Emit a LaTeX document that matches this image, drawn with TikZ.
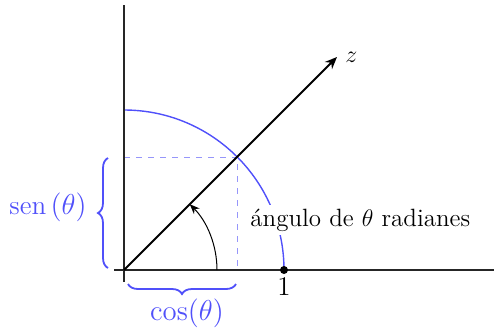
\documentclass[tikz,border=0pt]{standalone}
\usetikzlibrary{decorations.pathreplacing,arrows.meta}
\definecolor{myblue}{RGB}{80,80,250}
\definecolor{lightblue}{RGB}{150,150,250}
\begin{document}
\begin{tikzpicture}[x=0.5pt,y=-0.5pt,
  txt/.style={font=\fontsize{12.5}{15}\selectfont, inner sep=1pt},
  btxt/.style={font=\fontsize{13.5}{16}\selectfont, inner sep=1pt, myblue},
  axis/.style={line width=0.6pt, black!85},
  bluebrace/.style={decorate, decoration={brace, amplitude=5pt}, myblue, line width=0.9pt},
  guide/.style={dashed, lightblue, line width=0.5pt}]
\useasboundingbox (0,0) rectangle (494,328);
\coordinate (O) at (124,270);
\coordinate (ytop) at (124,5);
\coordinate (ybot) at (124,282);
\coordinate (xl) at (114,270);
\coordinate (xr) at (494,270);
\coordinate (P) at (237,157);
\coordinate (Py) at (124,157);
\coordinate (Px) at (237,270);
\coordinate (Z) at (337,57);
% guides
\draw[guide] (Py) -- (P) -- (Px);
% circle arc
\draw[myblue, line width=0.7pt] (124,110) arc[start angle=-90, end angle=0, radius=160];
% axes
\draw[axis] (ytop) -- (ybot);
\draw[axis] (xl) -- (xr);
% z vector
\draw[line width=1pt, -{Stealth[length=6pt,width=5pt]}] (O) -- (Z);
\node[txt, anchor=west] (zl) at (343,57) {$z$};
% angle arc
\draw[line width=0.5pt, -{Stealth[length=5pt,width=4pt]}] (217,270) arc[start angle=0, end angle=-45, radius=93];
\node[txt, anchor=west, fill=white, inner sep=2pt] (ang) at (246,220) {ángulo de $\theta$ radianes};
% point 1
\fill (284,270) circle[radius=4];
\node[btxt, black, anchor=north] (one) at (284,275) {1};
% braces
\draw[bluebrace] (108,268) -- (108,158);
\node[btxt] (sen) at (48,207) {sen\,$(\theta)$};
\draw[bluebrace] (236,284) -- (128,284);
\node[btxt] (cos) at (187,313) {$\cos(\theta)$};
\end{tikzpicture}
\end{document}
